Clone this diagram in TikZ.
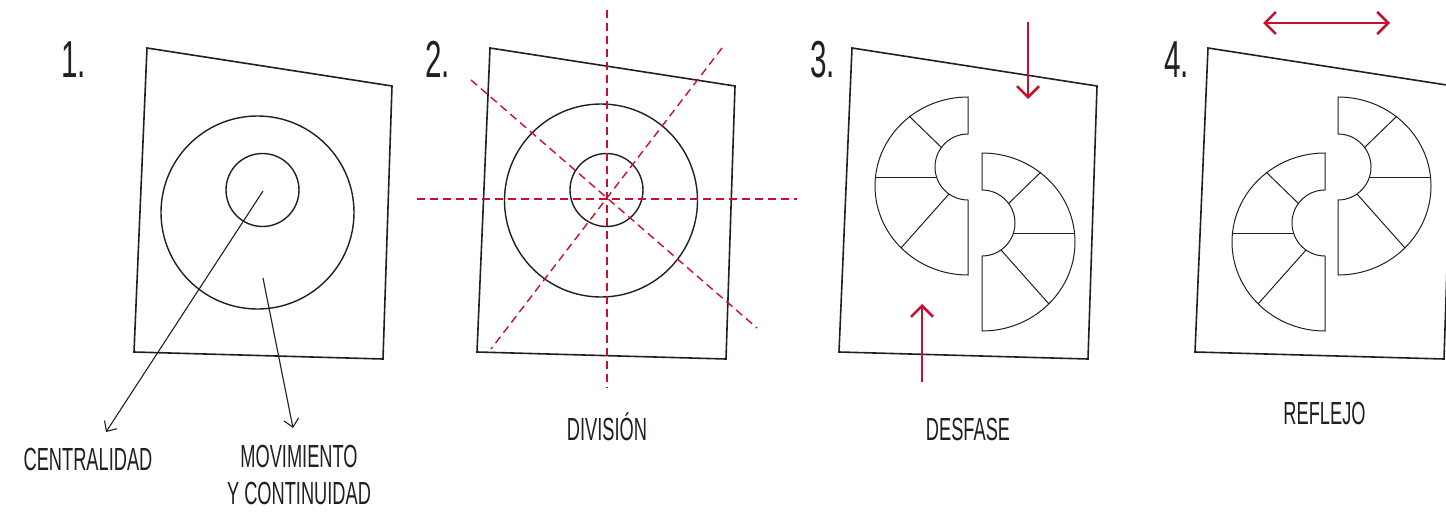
\documentclass[tikz,border=0pt]{standalone}
\usepackage{fontspec}
\newfontfamily\capfont[FakeStretch=0.57]{Liberation Sans}
\usetikzlibrary{arrows.meta}
\definecolor{guidered}{HTML}{C8102E}
\definecolor{inkgray}{HTML}{231F20}

\begin{document}
\begin{tikzpicture}[
    x=1pt, y=-1pt,
    frameline/.style={draw=inkgray, line width=1.6pt, line join=miter},
    ringline/.style={draw=inkgray, line width=1pt},
    circleline/.style={draw=inkgray, line width=1.4pt},
    guideline/.style={draw=guidered, line width=1.4pt, dash pattern=on 8pt off 5pt},
    pointer/.style={draw=inkgray, line width=1.1pt, -{Straight Barb[length=8pt, width=15pt]}},
    redarrow/.style={draw=guidered, line width=2.5pt, >={Straight Barb[length=11pt, width=22pt]}},
    numlabel/.style={font=\capfont\fontsize{52}{52}\selectfont, text=inkgray, inner sep=0pt, anchor=base west},
    caption/.style={font=\capfont\fontsize{32}{37}\selectfont, text=inkgray, inner sep=0pt, align=center},
    lamina/.pic={\draw[frameline] (0,0) -- (245,38) -- (236,311) -- (-13,304) -- cycle;},
    halfring/.pic={
      \draw[ringline] (0,-89) arc[start angle=270, end angle=90, x radius=93, y radius=89]
        -- (0,14) arc[start angle=90, end angle=270, radius=33] -- cycle;
      \draw[ringline] (-26,-38) -- (-59,-70);
      \draw[ringline] (-31,-9) -- (-93,-9);
      \draw[ringline] (-19,8) -- (-67,62);
    },
]
    \useasboundingbox (0,0) rectangle (1446,514);
    \clip (0,0) rectangle (1446,514);

    % 1. centralidad
    \node[numlabel] (num1) at (61,77) {1.};
    \pic at (147,48) {lamina};
    \draw[circleline] (257.5,212.5) circle[radius=96.5];
    \draw[circleline] (262.5,190) circle[radius=36.5];
    \coordinate (centro) at (263,191);
    \coordinate (anillo) at (263,278);
    \coordinate (tipcentral) at (106,432);
    \coordinate (tipmov) at (293,428);
    \draw[pointer] (centro) -- (tipcentral);
    \draw[pointer] (anillo) -- (tipmov);
    \node[caption, anchor=base] (central) at (88,470) {CENTRALIDAD};
    \node[caption] (movim) at (299,475) {MOVIMIENTO\\Y CONTINUIDAD};

    % 2. division
    \node[numlabel] (num2) at (425,77) {2.};
    \pic at (490,48) {lamina};
    \draw[circleline] (601,200.5) circle[radius=96.5];
    \draw[circleline] (606.5,190) circle[radius=36.5];
    \draw[guideline] (607,10) -- (607,388);
    \draw[guideline] (417,199) -- (797,199);
    \draw[guideline] (471,80) -- (757,328);
    \draw[guideline] (722,48) -- (491,349);
    \node[caption, anchor=base] (divis) at (607,440) {DIVISIÓN};

    % 3. desfase
    \node[numlabel] (num3) at (810,77) {3.};
    \pic at (852,48) {lamina};
    \pic at (968,186) {halfring};
    \pic[xscale=-1] at (982,242) {halfring};
    \coordinate (downtop) at (1028,22);
    \coordinate (downtip) at (1028,99);
    \coordinate (uptail) at (922,382);
    \coordinate (uptip) at (922,304);
    \draw[redarrow, ->] (downtop) -- (downtip);
    \draw[redarrow, ->] (uptail) -- (uptip);
    \node[caption, anchor=base] (desf) at (968,440) {DESFASE};

    % 4. reflejo
    \node[numlabel] (num4) at (1164,77) {4.};
    \pic at (1208,48) {lamina};
    \pic at (1325,242) {halfring};
    \pic[xscale=-1] at (1338,186) {halfring};
    \coordinate (refL) at (1263,23);
    \coordinate (refR) at (1390,23);
    \draw[redarrow, <->] (refL) -- (refR);
    \node[caption, anchor=base] (refl) at (1324.5,424) {REFLEJO};

\end{tikzpicture}
\end{document}
